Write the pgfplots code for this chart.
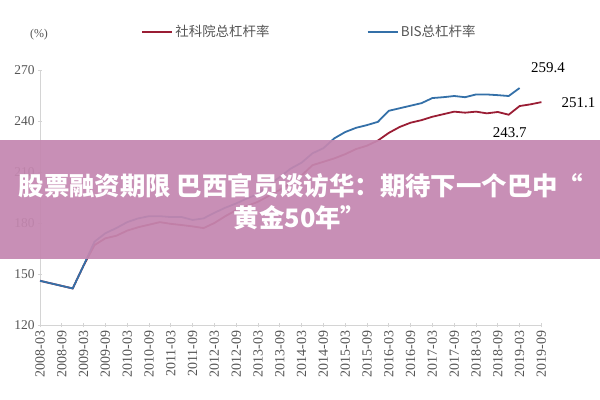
\documentclass[border=0pt]{standalone}
\usepackage{fontspec}
\setmainfont{Liberation Serif}
\newfontfamily\cjk{Noto Sans CJK SC}
\usepackage{pgfplots}
\pgfplotsset{compat=1.18}
\definecolor{redl}{HTML}{9A1D34}
\definecolor{bluel}{HTML}{3470A8}
\definecolor{axgray}{HTML}{D4D4D4}
\definecolor{txtgray}{HTML}{555555}
\definecolor{banner}{HTML}{C487B0}
\begin{document}
\begin{tikzpicture}
\begin{axis}[
  at={(0,0)}, anchor=south west,
  scale only axis, width=501.4bp, height=255bp,
  xmin=0, xmax=46, ymin=120, ymax=270,
  axis lines*=left,
  axis line style={axgray, line width=0.8pt},
  ytick={120,150,180,210,240,270},
  xtick={0,2,...,46},
  xticklabels={2008-03,2008-09,2009-03,2009-09,2010-03,2010-09,2011-03,2011-09,2012-03,2012-09,2013-03,2013-09,2014-03,2014-09,2015-03,2015-09,2016-03,2016-09,2017-03,2017-09,2018-03,2018-09,2019-03,2019-09},
  x tick label style={rotate=90, anchor=east, font=\fontsize{14}{14}\selectfont, text=txtgray},
  y tick label style={font=\fontsize{13.5}{14}\selectfont, text=txtgray},
  /pgf/number format/assume math mode=true,
  tick style={axgray, line width=0.8pt},
  major tick length=4bp, tick align=center,
  clip=false,
  legend columns=2,
  legend style={draw=none, fill=none, at={(0.537,1.149)}, anchor=center,
    font=\cjk\fontsize{13.5}{14}\selectfont, text=txtgray,
    /tikz/every even column/.append style={column sep=95bp}},
  legend image code/.code={\draw[#1, line width=2.4pt] (0bp,0bp) -- (30bp,0bp);},
]
\addplot[redl, line width=1.8pt] coordinates {
(0,146) (1,144.5) (2,143) (3,141.5) (4,155) (5,167) (6,171) (7,172.5) (8,175.5) (9,177.5)
(10,179) (11,180.5) (12,179.5) (13,178.8) (14,178) (15,177) (16,180) (17,184) (18,187.6) (19,190)
(20,192.5) (21,196) (22,199.5) (23,203.5) (24,208) (25,214) (26,216) (27,218) (28,220.5) (29,223.5)
(30,225.5) (31,228.5) (32,233) (33,236.5) (34,239) (35,240.5) (36,242.5) (37,244) (38,245.5) (39,244.9)
(40,245.5) (41,244.5) (42,245.3) (43,243.7) (44,248.8) (45,249.8) (46,251.1)};
\addlegendentry{社科院总杠杆率}
\addplot[bluel, line width=1.8pt] coordinates {
(0,146) (1,144.5) (2,143) (3,141.5) (4,155) (5,169) (6,174) (7,177) (8,180.5) (9,182.7)
(10,184) (11,184) (12,183.5) (13,183.5) (14,181.8) (15,182.7) (16,186) (17,189) (18,191.5) (19,194.5)
(20,197) (21,202.5) (22,207) (23,212) (24,215.5) (25,221) (26,224) (27,229.8) (28,233.5) (29,236)
(30,237.6) (31,239.5) (32,246) (33,247.5) (34,249) (35,250.5) (36,253.5) (37,254) (38,254.7) (39,254)
(40,255.6) (41,255.6) (42,255.2) (43,254.7) (44,259.4)};
\addlegendentry{BIS总杠杆率}
\node[font=\fontsize{15}{16}\selectfont] at (axis cs:46.6,271.5) {259.4};
\node[font=\fontsize{15}{16}\selectfont] at (axis cs:49.4,250.6) {251.1};
\node[font=\fontsize{15}{16}\selectfont] at (axis cs:43.1,232.9) {243.7};
\end{axis}
\node[font=\fontsize{12}{12}\selectfont, text=txtgray] at (-1bp,290bp) {(\%)};
\fill[banner, fill opacity=0.93] (-40bp,65.5bp) rectangle (560bp,185bp);
\node[text=white, font=\cjk\bfseries\fontsize{25.5}{26}\selectfont] at (261bp,139bp) {股票融资期限 巴西官员谈访华：期待下一个巴中“};
\node[text=white, font=\cjk\bfseries\fontsize{25.5}{26}\selectfont] at (260bp,107bp) {黄金50年”};
\path[use as bounding box] (-40bp,-75bp) rectangle (560bp,325bp);
\end{tikzpicture}
\end{document}
